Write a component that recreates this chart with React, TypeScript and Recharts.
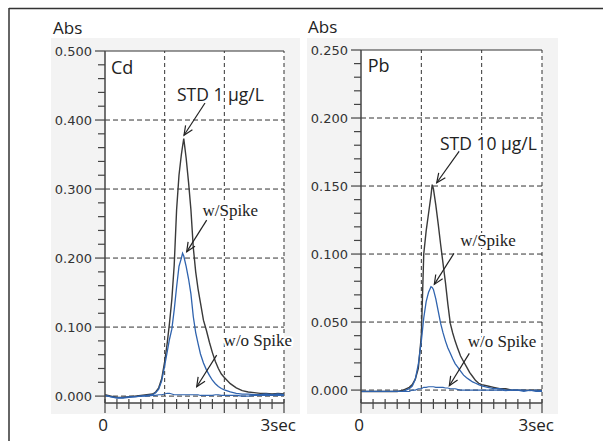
import React from "react";
import { LineChart, Line, XAxis, YAxis, CartesianGrid, ReferenceLine, ReferenceDot } from "recharts";

// ---------- data ----------
const cdTimes = [0, 0.1, 0.2, 0.3, 0.4, 0.5, 0.6, 0.7, 0.8, 0.85, 0.9, 0.95, 1.0, 1.04, 1.08, 1.12, 1.16, 1.2, 1.24, 1.28, 1.3, 1.32, 1.36, 1.4, 1.44, 1.48, 1.52, 1.56, 1.6, 1.65, 1.7, 1.75, 1.8, 1.85, 1.9, 1.95, 2.0, 2.1, 2.2, 2.3, 2.4, 2.5, 2.6, 2.7, 2.8, 2.9, 3.0];
const cdStd = [0.002, 0.0, -0.002, -0.002, -0.001, 0.0, 0.001, 0.002, 0.003, 0.006, 0.012, 0.025, 0.05, 0.075, 0.105, 0.14, 0.19, 0.27, 0.32, 0.35, 0.362, 0.373, 0.345, 0.31, 0.27, 0.215, 0.18, 0.155, 0.135, 0.11, 0.095, 0.078, 0.063, 0.05, 0.04, 0.032, 0.027, 0.018, 0.012, 0.008, 0.006, 0.005, 0.004, 0.004, 0.003, 0.004, 0.003];
const cdSpike = [0.001, -0.001, -0.003, -0.003, -0.002, -0.001, 0.0, 0.001, 0.002, 0.005, 0.01, 0.022, 0.044, 0.063, 0.082, 0.097, 0.125, 0.158, 0.188, 0.2, 0.207, 0.203, 0.188, 0.17, 0.148, 0.115, 0.092, 0.076, 0.061, 0.048, 0.038, 0.03, 0.023, 0.018, 0.014, 0.011, 0.009, 0.006, 0.004, 0.003, 0.003, 0.002, 0.002, 0.003, 0.002, 0.003, 0.002];
const cdBlank = [0.001, -0.001, -0.002, -0.002, -0.001, -0.001, 0.0, 0.0, 0.001, 0.001, 0.002, 0.002, 0.003, 0.004, 0.004, 0.003, 0.002, 0.002, 0.002, 0.002, 0.002, 0.002, 0.002, 0.002, 0.002, 0.002, 0.002, 0.002, 0.001, 0.001, 0.001, 0.001, 0.001, 0.002, 0.002, 0.001, 0.001, 0.001, 0.001, 0.0, 0.0, 0.001, 0.001, 0.001, 0.001, 0.001, 0.001];

const pbTimes = [0, 0.1, 0.2, 0.3, 0.4, 0.5, 0.6, 0.7, 0.8, 0.85, 0.9, 0.95, 1.0, 1.04, 1.08, 1.12, 1.16, 1.18, 1.2, 1.24, 1.28, 1.32, 1.36, 1.4, 1.44, 1.48, 1.52, 1.56, 1.6, 1.65, 1.7, 1.75, 1.8, 1.85, 1.9, 1.95, 2.0, 2.1, 2.2, 2.3, 2.4, 2.5, 2.6, 2.7, 2.8, 2.9, 3.0];
const pbStd = [-0.001, -0.001, -0.001, -0.001, -0.001, -0.001, -0.001, 0.0, 0.002, 0.004, 0.008, 0.016, 0.04, 0.1, 0.117, 0.13, 0.143, 0.151, 0.148, 0.136, 0.122, 0.107, 0.093, 0.079, 0.063, 0.049, 0.042, 0.036, 0.031, 0.025, 0.021, 0.017, 0.013, 0.01, 0.007, 0.005, 0.004, 0.003, 0.002, 0.001, 0.001, 0.0, 0.0, 0.0, 0.0, 0.0, 0.0];
const pbSpike = [-0.001, -0.001, -0.001, -0.001, -0.001, -0.001, -0.001, -0.001, 0.001, 0.003, 0.008, 0.019, 0.036, 0.053, 0.065, 0.072, 0.076, 0.0755, 0.074, 0.067, 0.058, 0.049, 0.042, 0.036, 0.031, 0.027, 0.023, 0.0195, 0.017, 0.014, 0.011, 0.009, 0.0075, 0.006, 0.005, 0.004, 0.003, 0.002, 0.001, 0.001, 0.0, 0.0, 0.0, -0.001, 0.0, -0.001, -0.001];
const pbBlank = [-0.001, -0.001, -0.001, -0.001, -0.001, -0.001, -0.001, -0.001, -0.001, 0.0, 0.0, 0.001, 0.001, 0.002, 0.002, 0.0025, 0.0025, 0.0025, 0.0025, 0.002, 0.002, 0.002, 0.002, 0.0015, 0.0015, 0.001, 0.001, 0.001, 0.0005, 0.0, 0.0, 0.0, 0.0, 0.0, 0.0, 0.0, 0.0, 0.0, 0.0, 0.0, -0.0005, 0.0, 0.0, 0.0, -0.0005, 0.0, -0.0005];

const xTicks = [0, 0.2, 0.4, 0.6, 0.8, 1, 1.2, 1.4, 1.6, 1.8, 2, 2.2, 2.4, 2.6, 2.8, 3];
const xLabelValues = [0, 3];
const xLabelTexts = ["0", "3sec"];
const xGridValues = [1, 2, 3];

const cdYTicks = [0, 0.02, 0.04, 0.06, 0.08, 0.1, 0.12, 0.14, 0.16, 0.18, 0.2, 0.22, 0.24, 0.26, 0.28, 0.3, 0.32, 0.34, 0.36, 0.38, 0.4, 0.42, 0.44, 0.46, 0.48, 0.5];
const cdYMajors = [0, 0.1, 0.2, 0.3, 0.4, 0.5];
const cdYLabels = ["0.000", "0.100", "0.200", "0.300", "0.400", "0.500"];

const pbYTicks = [0, 0.01, 0.02, 0.03, 0.04, 0.05, 0.06, 0.07, 0.08, 0.09, 0.1, 0.11, 0.12, 0.13, 0.14, 0.15, 0.16, 0.17, 0.18, 0.19, 0.2, 0.21, 0.22, 0.23, 0.24, 0.25];
const pbYMajors = [0, 0.05, 0.1, 0.15, 0.2, 0.25];
const pbYLabels = ["0.000", "0.050", "0.100", "0.150", "0.200", "0.250"];

const cdNotes = [
  { kind: "text", x: 0.1, y: 0.477, text: "Cd", font: "sans", size: 18, anchor: "start" },
  { kind: "text", x: 1.935, y: 0.438, text: "STD 1 µg/L", font: "sans", size: 17.5, anchor: "middle" },
  { kind: "arrow", x1: 1.676, y1: 0.4246, x2: 1.324, y2: 0.378 },
  { kind: "text", x: 2.1, y: 0.2696, text: "w/Spike", font: "serif", size: 17, anchor: "middle" },
  { kind: "arrow", x1: 1.704, y1: 0.255, x2: 1.369, y2: 0.209 },
  { kind: "text", x: 2.562, y: 0.08, text: "w/o Spike", font: "serif", size: 17, anchor: "middle" },
  { kind: "arrow", x1: 1.872, y1: 0.0594, x2: 1.537, y2: 0.0135 },
];
const pbNotes = [
  { kind: "text", x: 0.111, y: 0.239, text: "Pb", font: "sans", size: 18, anchor: "start" },
  { kind: "text", x: 2.113, y: 0.1816, text: "STD 10 µg/L", font: "sans", size: 17.5, anchor: "middle" },
  { kind: "arrow", x1: 1.629, y1: 0.1757, x2: 1.255, y2: 0.1524 },
  { kind: "text", x: 2.105, y: 0.1098, text: "w/Spike", font: "serif", size: 17, anchor: "middle" },
  { kind: "arrow", x1: 1.541, y1: 0.1005, x2: 1.215, y2: 0.0777 },
  { kind: "text", x: 2.337, y: 0.0355, text: "w/o Spike", font: "serif", size: 17, anchor: "middle" },
  { kind: "arrow", x1: 1.795, y1: 0.027, x2: 1.464, y2: 0.0032 },
];

// ---------- styles ----------
const SANS = "'Open Sans', 'Noto Sans', sans-serif";
const SERIF = "'Liberation Serif', 'DejaVu Serif', serif";
const TICKFONT = "'DejaVu Sans', sans-serif";
const AXIS = "#444444";
const GRID = "#333333";
const DARK = "#3a3a3a";
const BLUE = "#2f63ae";

const renderXTick = (p: any) => {
  const v = p.payload.value;
  const x = p.x;
  const y = p.y;
  const major = Math.abs(v - Math.round(v)) < 1e-6;
  const li = xLabelValues.findIndex((lv) => Math.abs(lv - v) < 1e-6);
  const isFirst = li === 0;
  return (
    <g>
      <line x1={x} x2={x} y1={y - 4} y2={y + (major ? 10 : 6)} stroke={AXIS} strokeWidth={1.2} />
      {li >= 0 && (
        <text
          x={isFirst ? x - 2 : x + 12}
          y={y + 21}
          textAnchor={isFirst ? "middle" : "end"}
          dominantBaseline="central"
          fontFamily={SANS}
          fontSize={17}
          fill="#222"
        >
          {xLabelTexts[li]}
        </text>
      )}
    </g>
  );
};

const makeYTick = (majors: number[], labels: string[]) => (p: any) => {
  const v = p.payload.value;
  const i = majors.findIndex((m) => Math.abs(m - v) < 1e-9);
  const major = i >= 0;
  return (
    <g>
      <line x1={p.x - (major ? 10 : 7)} x2={p.x} y1={p.y} y2={p.y} stroke={AXIS} strokeWidth={1.2} />
      {major && (
        <text x={p.x - 13} y={p.y} textAnchor="end" dominantBaseline="central" fontFamily={TICKFONT} fontSize={13} fill="#333">
          {labels[i]}
        </text>
      )}
    </g>
  );
};

const arrowShape = (p: any) => {
  const { x1, y1, x2, y2 } = p;
  const ang = Math.atan2(y2 - y1, x2 - x1);
  const L = 10;
  const a = 0.42;
  const ax = x2 - L * Math.cos(ang - a);
  const ay = y2 - L * Math.sin(ang - a);
  const bx = x2 - L * Math.cos(ang + a);
  const by = y2 - L * Math.sin(ang + a);
  return (
    <g>
      <line x1={x1} y1={y1} x2={x2} y2={y2} stroke="#222" strokeWidth={1.2} />
      <polyline points={`${ax},${ay} ${x2},${y2} ${bx},${by}`} fill="none" stroke="#222" strokeWidth={1.2} />
    </g>
  );
};

type PanelProps = {
  left: number;
  times: number[];
  std: number[];
  spike: number[];
  blank: number[];
  yDomain: [number, number];
  yTicks: number[];
  yMajors: number[];
  yLabels: string[];
  notes: any[];
  margin: { top: number; right: number; bottom: number; left: number };
  width: number;
};

function Panel(props: PanelProps) {
  const rows = props.times.map((t, i) => ({ t, std: props.std[i], spike: props.spike[i], blank: props.blank[i] }));
  const top = props.yMajors[props.yMajors.length - 1];
  return (
    <div style={{ position: "absolute", left: props.left, top: 38 }}>
      <LineChart width={props.width} height={403} data={rows} margin={props.margin}>
        <CartesianGrid horizontal={false} vertical={false} fill="#ffffff" />
        <XAxis
          dataKey="t"
          type="number"
          domain={[0, 3]}
          ticks={xTicks}
          interval={0}
          allowDataOverflow
          tickLine={false}
          tickSize={0}
          tickMargin={0}
          height={30}
          axisLine={{ stroke: AXIS, strokeWidth: 1.5 }}
          tick={renderXTick}
        />
        <YAxis
          type="number"
          domain={props.yDomain}
          ticks={props.yTicks}
          interval={0}
          allowDataOverflow
          tickLine={false}
          tickSize={0}
          tickMargin={0}
          width={50}
          axisLine={{ stroke: AXIS, strokeWidth: 1.5 }}
          tick={makeYTick(props.yMajors, props.yLabels)}
        />
        {props.yMajors.map((m) => (
          <ReferenceLine
            key={"h" + m}
            y={m}
            stroke={GRID}
            strokeWidth={1}
            strokeDasharray={m === top ? undefined : "5 3"}
          />
        ))}
        {xGridValues.map((g) => (
          <ReferenceLine key={"v" + g} x={g} stroke={GRID} strokeWidth={1} strokeDasharray="4 3" />
        ))}
        <Line type="linear" dataKey="std" stroke={DARK} strokeWidth={1.4} dot={false} isAnimationActive={false} />
        <Line type="linear" dataKey="spike" stroke={BLUE} strokeWidth={1.3} dot={false} isAnimationActive={false} />
        <Line type="linear" dataKey="blank" stroke={BLUE} strokeWidth={1.1} dot={false} isAnimationActive={false} />
        {props.notes.map((n, i) =>
          n.kind === "arrow" ? (
            <ReferenceLine
              key={"a" + i}
              segment={[
                { x: n.x1, y: n.y1 },
                { x: n.x2, y: n.y2 },
              ]}
              ifOverflow="visible"
              shape={arrowShape}
            />
          ) : (
            <ReferenceDot
              key={"t" + i}
              x={n.x}
              y={n.y}
              r={0}
              ifOverflow="visible"
              shape={(p: any) => (
                <text
                  x={p.cx}
                  y={p.cy}
                  textAnchor={n.anchor}
                  dominantBaseline="central"
                  fontFamily={n.font === "serif" ? SERIF : SANS}
                  fontSize={n.size}
                  fill="#222"
                  stroke="#ffffff"
                  strokeWidth={4}
                  strokeLinejoin="round"
                  paintOrder="stroke"
                >
                  {n.text}
                </text>
              )}
            />
          )
        )}
      </LineChart>
    </div>
  );
}

export default function App() {
  return (
    <div style={{ position: "absolute", left: 0, top: 0, width: 603, height: 441, background: "#ffffff", overflow: "hidden" }}>
      <svg width={603} height={441} style={{ position: "absolute", left: 0, top: 0 }}>
        <line x1={9} y1={8.5} x2={603} y2={8.5} stroke="#333" strokeWidth={1.5} />
        <line x1={9} y1={8} x2={9} y2={441} stroke="#333" strokeWidth={1.5} />
        <rect x={51} y={38} width={249} height={376} fill="#f3f3f3" />
        <rect x={307} y={38} width={251} height={376} fill="#f3f3f3" />
        <text x={53} y={33.5} fontFamily={SANS} fontSize={17} fill="#222">Abs</text>
        <text x={308} y={33} fontFamily={SANS} fontSize={17} fill="#222">Abs</text>
      </svg>
      <Panel
        left={40}
        width={260}
        times={cdTimes}
        std={cdStd}
        spike={cdSpike}
        blank={cdBlank}
        yDomain={[-0.01, 0.5]}
        yTicks={cdYTicks}
        yMajors={cdYMajors}
        yLabels={cdYLabels}
        notes={cdNotes}
        margin={{ top: 13, right: 16, bottom: 8, left: 15 }}
      />
      <Panel
        left={300}
        width={258}
        times={pbTimes}
        std={pbStd}
        spike={pbSpike}
        blank={pbBlank}
        yDomain={[-0.0095, 0.25]}
        yTicks={pbYTicks}
        yMajors={pbYMajors}
        yLabels={pbYLabels}
        notes={pbNotes}
        margin={{ top: 12, right: 16, bottom: 8, left: 11 }}
      />
    </div>
  );
}
